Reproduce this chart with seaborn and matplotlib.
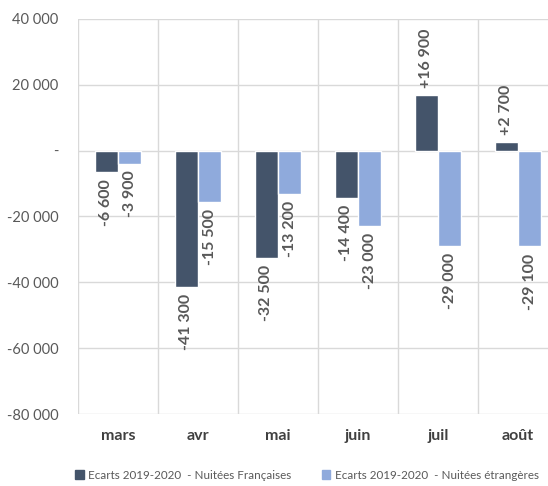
import matplotlib
matplotlib.use("Agg")
import matplotlib.pyplot as plt
import matplotlib.ticker as mticker
import seaborn as sns
import pandas as pd

months = ["mars", "avr", "mai", "juin", "juil", "août"]
francaises = [-6600, -41300, -32500, -14400, 16900, 2700]
etrangeres = [-3900, -15500, -13200, -23000, -29000, -29100]
series_names = ["Ecarts 2019-2020  - Nuitées Françaises",
                "Ecarts 2019-2020  - Nuitées étrangères"]
colors = ["#44546A", "#8FAADC"]

df = pd.DataFrame({
    "mois": months * 2,
    "valeur": francaises + etrangeres,
    "serie": [series_names[0]] * len(months) + [series_names[1]] * len(months),
})

sns.set_theme(style="white")
plt.rcParams["font.family"] = ["Lato", "DejaVu Sans"]

fig = plt.figure(figsize=(5.48, 4.86), dpi=100)
ax = fig.add_axes([78 / 548, 1 - 414 / 486, 480 / 548, (414 - 19) / 486])

sns.barplot(data=df, x="mois", y="valeur", hue="serie", order=months,
            hue_order=series_names, palette=colors, width=0.575, gap=0,
            saturation=1, ax=ax, legend=True)

ax.set_ylim(-80000, 40000)
ax.set_xlim(-0.5, 5.5)
ax.yaxis.set_major_locator(mticker.MultipleLocator(20000))

def yfmt(v, pos):
    if abs(v) < 1e-6:
        return "-"
    return f"{v:,.0f}".replace(",", " ")
ax.yaxis.set_major_formatter(mticker.FuncFormatter(yfmt))

def lbl(v):
    s = f"{abs(v):,.0f}".replace(",", " ")
    return ("+" if v > 0 else "-") + s

for cont, vals in zip(ax.containers, [francaises, etrangeres]):
    ax.bar_label(cont, labels=[lbl(v) for v in vals], rotation=90,
                 padding=5, color="#595959", fontsize=11.5, fontweight="bold")

for x in [i - 0.5 for i in range(7)]:
    ax.axvline(x, color="#D9D9D9", lw=1, zorder=0)
for y in range(-80000, 40001, 20000):
    ax.axhline(y, color="#D9D9D9", lw=1, zorder=0)

for s in ax.spines.values():
    s.set_visible(False)

ax.set_xlabel("")
ax.set_ylabel("")
ax.tick_params(axis="y", labelsize=10.5, labelcolor="#595959", length=0, pad=14)
ax.tick_params(axis="x", labelsize=11.5, labelcolor="#404040", length=0, pad=11)
for t in ax.get_xticklabels():
    t.set_fontweight("bold")

ax.legend_.remove()
handles = [plt.Rectangle((0, 0), 1, 1, color=c) for c in colors]
fig.legend(handles, series_names, loc="center", bbox_to_anchor=(307 / 548, 1 - 475 / 486),
           ncol=2, frameon=False, fontsize=8.4, handlelength=0.7, handleheight=0.7,
           handletextpad=0.4, columnspacing=2.6, labelcolor="#595959")

fig.savefig("out.png", dpi=100)
